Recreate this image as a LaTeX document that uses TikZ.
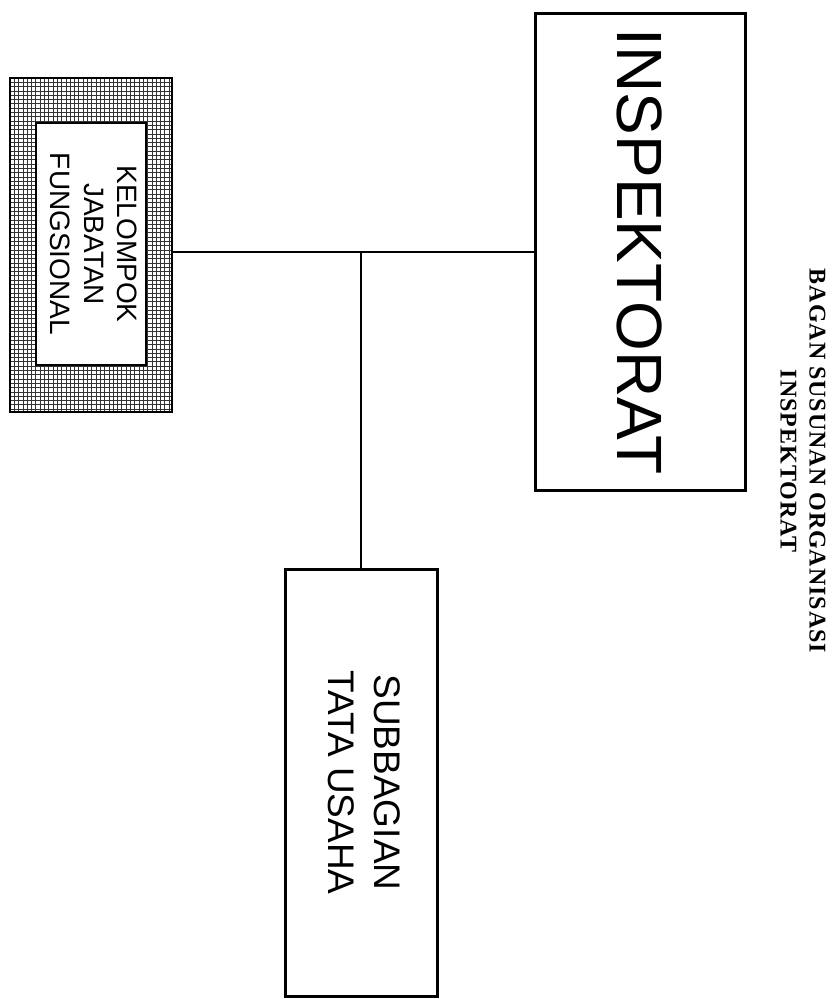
\documentclass[tikz,border=0pt]{standalone}
\usepackage{graphicx}
\usepackage{fontspec}
\setmainfont{Liberation Sans}
\newfontfamily\titlefont[LetterSpace=4]{Liberation Serif}
\begin{document}
\begin{tikzpicture}[x=1pt,y=-1pt,
  orgbox/.style={draw=black, line width=3pt, fill=white, inner sep=0pt},
  conn/.style={draw=black, line width=1.3pt},
  gridline/.style={draw=black!80, line width=0.8pt}]
\useasboundingbox (0,0) rectangle (834,999);
% hatched group box
\node[minimum width=162pt, minimum height=334pt, inner sep=0pt] (hatch) at (91,245) {};
\begin{scope}
\clip (10,78) rectangle (172,412);
\foreach \i in {0,...,38} { \draw[gridline] (10+4.3*\i,78) -- (10+4.3*\i,412); }
\foreach \j in {0,...,78} { \draw[gridline] (10,78+4.3*\j) -- (172,78+4.3*\j); }
\end{scope}
\draw[black, line width=1.8pt] (hatch.south west) rectangle (hatch.north east);
\node[orgbox, line width=2pt, minimum width=110pt, minimum height=242pt] (kel) at (91,244)
  {\rotatebox{-90}{\fontsize{28}{33.5}\selectfont\begin{tabular}{@{}c@{}}KELOMPOK\\JABATAN\\FUNGSIONAL\end{tabular}}};
% Inspektorat
\node[orgbox, minimum width=210pt, minimum height=477pt] (insp) at (640,251.5)
  {\rotatebox{-90}{\fontsize{64}{70}\selectfont INSPEKTORAT}};
% Subbagian
\node[orgbox, minimum width=152pt, minimum height=427pt] (sub) at (361,782.5)
  {\rotatebox{-90}{\fontsize{37}{46}\selectfont\begin{tabular}{@{}c@{}}SUBBAGIAN\\TATA USAHA\end{tabular}}};
% connectors
\coordinate (j) at (361,252);
\draw[conn] (hatch.east |- j) -- (insp.west |- j);
\draw[conn] (j) -- (sub.north);
% title
\node (title) at (801,461)
  {\rotatebox{-90}{\titlefont\bfseries\fontsize{24}{29}\selectfont\begin{tabular}{@{}c@{}}BAGAN SUSUNAN ORGANISASI\\INSPEKTORAT\end{tabular}}};
\end{tikzpicture}
\end{document}
